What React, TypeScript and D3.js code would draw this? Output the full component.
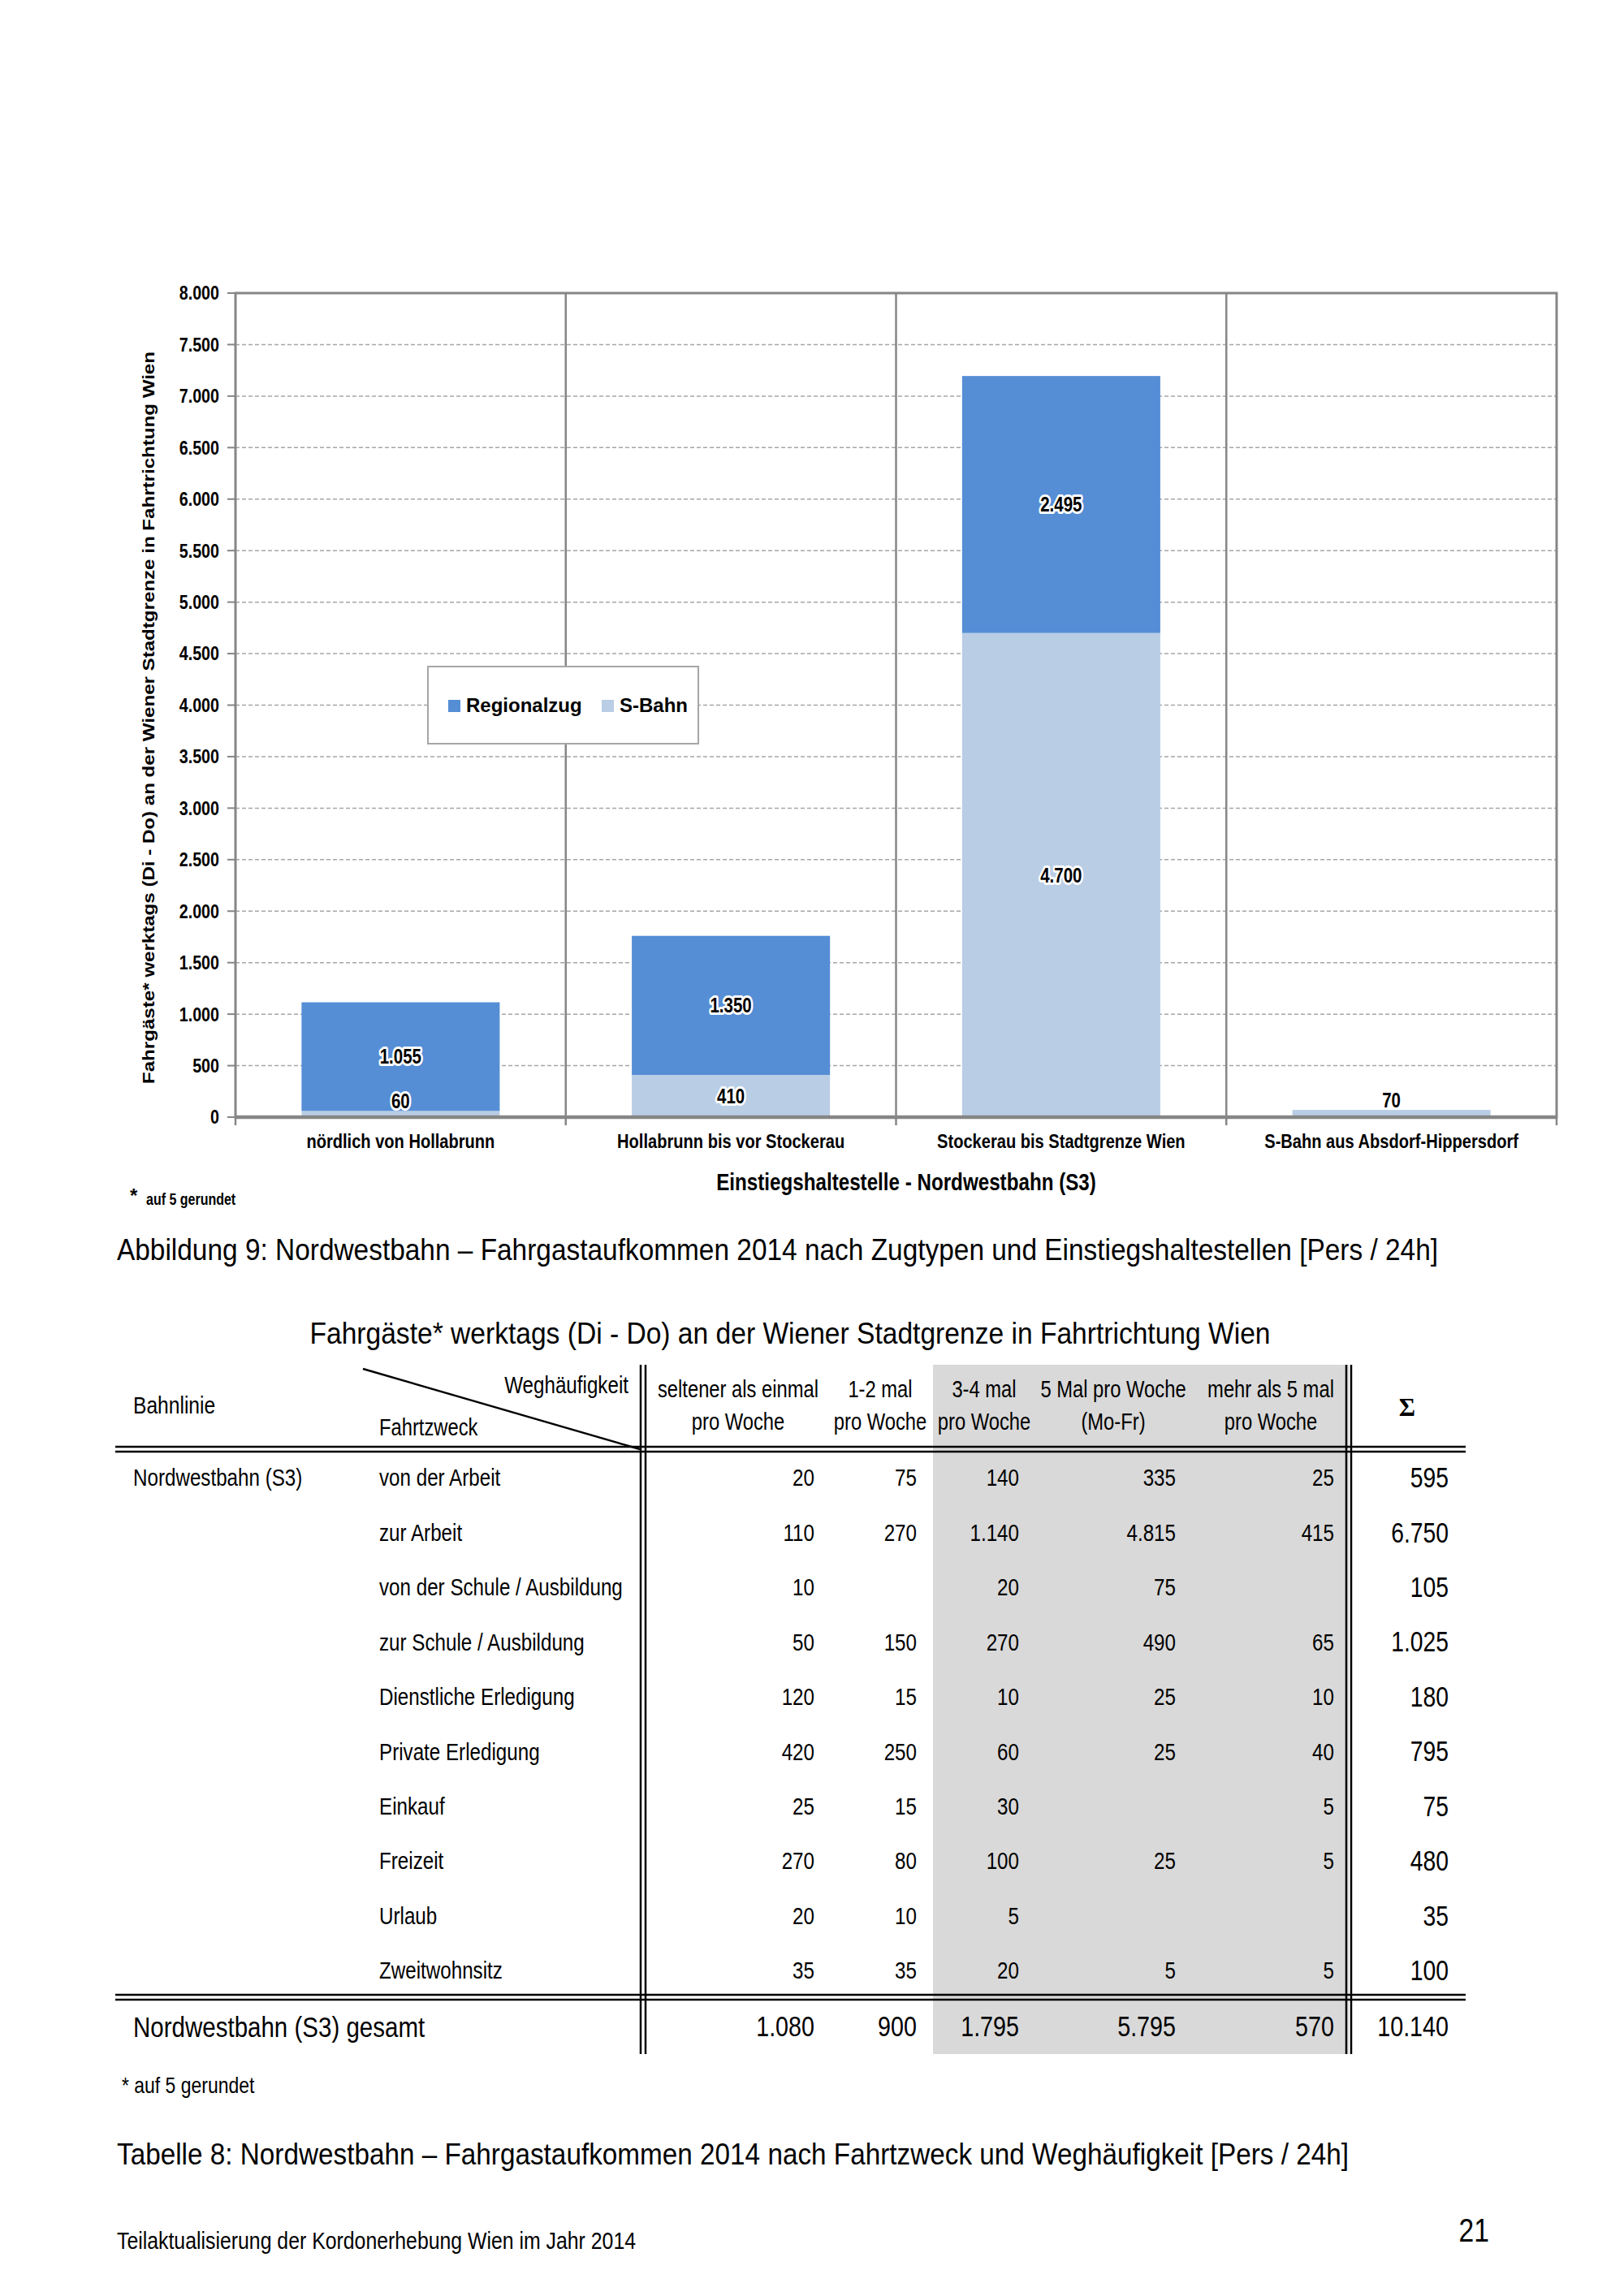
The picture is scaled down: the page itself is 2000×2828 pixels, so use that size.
import React from 'react';
import * as d3 from 'd3';

// Chart data (Abbildung 9)
const categories = [
  'nördlich von Hollabrunn',
  'Hollabrunn bis vor Stockerau',
  'Stockerau bis Stadtgrenze Wien',
  'S-Bahn aus Absdorf-Hippersdorf',
];
const sBahn = [60, 410, 4700, 70];
const regionalzug = [1055, 1350, 2495, 0];
const seriesKeys = ['sBahn', 'regionalzug'];
const seriesNames = ['Regionalzug', 'S-Bahn'];
const yTicks = d3.range(0, 8001, 500);

// Table data (Tabelle 8)
const purposes = [
  'von der Arbeit',
  'zur Arbeit',
  'von der Schule / Ausbildung',
  'zur Schule / Ausbildung',
  'Dienstliche Erledigung',
  'Private Erledigung',
  'Einkauf',
  'Freizeit',
  'Urlaub',
  'Zweitwohnsitz',
];
const freqHeaders = [
  ['seltener als einmal', 'pro Woche'],
  ['1-2 mal', 'pro Woche'],
  ['3-4 mal', 'pro Woche'],
  ['5 Mal pro Woche', '(Mo-Fr)'],
  ['mehr als 5 mal', 'pro Woche'],
];
const tableValues: (number | null)[][] = [
  [20, 75, 140, 335, 25],
  [110, 270, 1140, 4815, 415],
  [10, null, 20, 75, null],
  [50, 150, 270, 490, 65],
  [120, 15, 10, 25, 10],
  [420, 250, 60, 25, 40],
  [25, 15, 30, null, 5],
  [270, 80, 100, 25, 5],
  [20, 10, 5, null, null],
  [35, 35, 20, 5, 5],
];
const rowSums = [595, 6750, 105, 1025, 180, 795, 75, 480, 35, 100];
const colTotals = [1080, 900, 1795, 5795, 570];
const grandTotal = 10140;

const de = d3.formatLocale({ decimal: ',', thousands: '.', grouping: [3], currency: ['', '€'] });
const fmt = de.format(',d');

const SANS = "'Liberation Sans', Arial, sans-serif";
const BLUE = '#558ed5';
const LIGHT = '#b9cde5';
const AXIS = '#868686';

// narrow text: Liberation Sans squeezed horizontally (stand-in for Arial Narrow)
const NT: React.FC<{
  x: number; y: number; size: number; anchor?: 'start' | 'middle' | 'end';
  bold?: boolean; dy?: string; halo?: boolean; children: React.ReactNode;
}> = ({ x, y, size, anchor = 'start', bold = false, dy, halo = false, children }) => (
  <text transform={`translate(${x},${y}) scale(0.82,1)`} textAnchor={anchor} dy={dy}
    fontFamily={SANS} fontWeight={bold ? 'bold' : 'normal'} fontSize={size} fill="#000"
    stroke={halo ? '#fff' : undefined} strokeWidth={halo ? 6 : undefined} strokeLinejoin="round"
    style={halo ? { paintOrder: 'stroke' } : undefined}>
    {children}
  </text>
);

const App: React.FC = () => {
  // chart geometry
  const left = 290, right = 1917, top = 361, bottom = 1376;
  const x = d3.scaleBand<string>().domain(categories).range([left, right]).padding(0);
  const y = d3.scaleLinear().domain([0, 8000]).range([bottom, top]);
  const barW = x.bandwidth() * 0.6;

  const rows = categories.map((c, i) => ({ cat: c, sBahn: sBahn[i], regionalzug: regionalzug[i] }));
  const stacked = d3.stack<any>().keys(seriesKeys)(rows);
  const colors: Record<string, string> = { sBahn: LIGHT, regionalzug: BLUE };

  // table geometry
  const rowY = d3.scalePoint<string>().domain(purposes).range([1820, 2427]);
  const totalY = 2496;
  const colRight = [1003, 1129, 1255, 1448, 1643];
  const colCenter = [909, 1084, 1212, 1371, 1565];
  const sumRight = 1784;
  const tLeft = 142, tRight = 1805, tTop = 1681, tBottom = 2530;
  const vLine1 = 792, vLine2 = 1661, hLine1 = 1785, hLine2 = 2460;

  const dbl = (x1: number, y1: number, x2: number, y2: number, key: string) => {
    const horiz = y1 === y2;
    return (
      <g key={key}>
        <line x1={horiz ? x1 : x1 - 3} x2={horiz ? x2 : x2 - 3} y1={horiz ? y1 - 3 : y1} y2={horiz ? y2 - 3 : y2} stroke="#000" strokeWidth={2.5} />
        <line x1={horiz ? x1 : x1 + 3} x2={horiz ? x2 : x2 + 3} y1={horiz ? y1 + 3 : y1} y2={horiz ? y2 + 3 : y2} stroke="#000" strokeWidth={2.5} />
      </g>
    );
  };

  return (
    <svg width={2000} height={2828} style={{ position: 'absolute', left: 0, top: 0, background: '#fff' }}>
      <rect width={2000} height={2828} fill="#fff" />

      {/* gridlines */}
      {yTicks.filter(t => t > 0 && t < 8000).map(t => (
        <line key={'g' + t} x1={left} x2={right} y1={y(t)} y2={y(t)} stroke="#a6a6a6" strokeWidth={1.5} strokeDasharray="5,3" />
      ))}

      {/* category separators */}
      {categories.slice(1).map(c => (
        <line key={'s' + c} x1={x(c)!} x2={x(c)!} y1={top} y2={bottom + 10} stroke={AXIS} strokeWidth={2.5} />
      ))}

      {/* bars */}
      {stacked.map(s => (
        <g key={s.key} fill={colors[s.key]}>
          {s.map((d, i) => (
            d[1] - d[0] > 0 ? (
              <rect key={i} x={x(categories[i])! + (x.bandwidth() - barW) / 2} width={barW}
                y={y(d[1])} height={y(d[0]) - y(d[1])} />
            ) : null
          ))}
        </g>
      ))}

      {/* legend */}
      <rect x={527} y={821} width={333} height={95} fill="#fff" stroke="#a6a6a6" strokeWidth={2} />
      {seriesNames.map((n, i) => {
        const lx = i === 0 ? 552 : 741;
        return (
          <g key={n}>
            <rect x={lx} y={862} width={15} height={15} fill={i === 0 ? BLUE : LIGHT} />
            <text x={lx + 22} y={877} fontFamily={SANS} fontWeight="bold" fontSize={24}>{n}</text>
          </g>
        );
      })}

      {/* plot frame */}
      <rect x={left} y={top} width={right - left} height={bottom - top} fill="none" stroke={AXIS} strokeWidth={3} />
      <line x1={left} x2={right} y1={bottom} y2={bottom} stroke={AXIS} strokeWidth={4.5} />
      {[left, right].map(v => (
        <line key={'xt' + v} x1={v} x2={v} y1={bottom} y2={bottom + 10} stroke={AXIS} strokeWidth={2.5} />
      ))}

      {/* y axis */}
      {yTicks.map(t => (
        <g key={'y' + t}>
          <line x1={left - 10} x2={left} y1={y(t)} y2={y(t)} stroke={AXIS} strokeWidth={2} />
          <NT x={270} y={y(t)} dy="0.35em" anchor="end" bold size={24}>{fmt(t)}</NT>
        </g>
      ))}
      <text transform={`translate(190,884) rotate(-90)`} textAnchor="middle" fontFamily={SANS} fontWeight="bold" fontSize={21}
        textLength={902} lengthAdjust="spacingAndGlyphs">
        Fahrgäste* werktags (Di - Do) an der Wiener Stadtgrenze in Fahrtrichtung Wien
      </text>

      {/* data labels */}
      {stacked.map(s => s.map((d, i) => {
        const v = d[1] - d[0];
        if (v <= 0) return null;
        const h = y(d[0]) - y(d[1]);
        const ly = h < 30 ? y(d[1]) - 12 : (y(d[0]) + y(d[1])) / 2;
        const cx = x(categories[i])! + x.bandwidth() / 2;
        return (
          <NT key={s.key + i} x={cx} y={ly} dy="0.35em" anchor="middle" bold size={25} halo={h >= 5}>{fmt(v)}</NT>
        );
      }))}

      {/* x axis labels */}
      {categories.map(c => (
        <NT key={'xl' + c} x={x(c)! + x.bandwidth() / 2} y={1414} anchor="middle" bold size={24.5}>{c}</NT>
      ))}
      <NT x={1116} y={1466} anchor="middle" bold size={29.5}>Einstiegshaltestelle - Nordwestbahn (S3)</NT>
      <text x={160} y={1481} fontFamily={SANS} fontWeight="bold" fontSize={24}>*</text>
      <NT x={180} y={1484} bold size={19.5}>auf 5 gerundet</NT>

      {/* figure caption */}
      <text x={144} y={1552} fontFamily={SANS} fontSize={36} textLength={1627} lengthAdjust="spacingAndGlyphs">
        Abbildung 9: Nordwestbahn – Fahrgastaufkommen 2014 nach Zugtypen und Einstiegshaltestellen [Pers / 24h]
      </text>

      {/* ---------- table ---------- */}
      <text x={973} y={1655} textAnchor="middle" fontFamily={SANS} fontSize={36} textLength={1183} lengthAdjust="spacingAndGlyphs">
        Fahrgäste* werktags (Di - Do) an der Wiener Stadtgrenze in Fahrtrichtung Wien
      </text>
      <rect x={1149} y={tTop} width={vLine2 - 1149} height={tBottom - tTop} fill="#d9d9d9" />

      <line x1={447} y1={1686} x2={788} y2={1785} stroke="#000" strokeWidth={2.5} />
      <NT x={164} y={1741} size={30}>Bahnlinie</NT>
      <NT x={774} y={1716} anchor="end" size={29.5}>Weghäufigkeit</NT>
      <NT x={467} y={1768} size={29}>Fahrtzweck</NT>
      {freqHeaders.map((h, i) => (
        <g key={'fh' + i}>
          <NT x={colCenter[i]} y={1721} anchor="middle" size={29}>{h[0]}</NT>
          <NT x={colCenter[i]} y={1761} anchor="middle" size={29}>{h[1]}</NT>
        </g>
      ))}
      <text x={1733} y={1744} textAnchor="middle" fontFamily="'Liberation Serif', serif" fontWeight="bold" fontSize={31}>Σ</text>

      {dbl(tLeft, hLine1, tRight, hLine1, 'h1')}
      {dbl(tLeft, hLine2, tRight, hLine2, 'h2')}
      {dbl(vLine1, tTop, vLine1, tBottom, 'v1')}
      {dbl(vLine2, tTop, vLine2, tBottom, 'v2')}

      <NT x={164} y={1820} dy="0.35em" size={29.5}>Nordwestbahn (S3)</NT>
      {purposes.map((p, r) => (
        <g key={'r' + p}>
          <NT x={467} y={rowY(p)!} dy="0.35em" size={29.5}>{p}</NT>
          {tableValues[r].map((v, c) => v === null ? null : (
            <NT key={c} x={colRight[c]} y={rowY(p)!} dy="0.35em" anchor="end" size={29.5}>{fmt(v)}</NT>
          ))}
          <NT x={sumRight} y={rowY(p)!} dy="0.35em" anchor="end" size={34.5}>{fmt(rowSums[r])}</NT>
        </g>
      ))}

      <NT x={164} y={totalY} dy="0.35em" size={36}>Nordwestbahn (S3) gesamt</NT>
      {colTotals.map((v, c) => (
        <NT key={'ct' + c} x={colRight[c]} y={totalY} dy="0.35em" anchor="end" size={35}>{fmt(v)}</NT>
      ))}
      <NT x={sumRight} y={totalY} dy="0.35em" anchor="end" size={35}>{fmt(grandTotal)}</NT>

      <NT x={150} y={2578} size={28}>* auf 5 gerundet</NT>

      <text x={144} y={2666} fontFamily={SANS} fontSize={37} textLength={1517} lengthAdjust="spacingAndGlyphs">
        Tabelle 8: Nordwestbahn – Fahrgastaufkommen 2014 nach Fahrtzweck und Weghäufigkeit [Pers / 24h]
      </text>
      <text x={144} y={2770} fontFamily={SANS} fontSize={30} textLength={639} lengthAdjust="spacingAndGlyphs">
        Teilaktualisierung der Kordonerhebung Wien im Jahr 2014
      </text>
      <NT x={1834} y={2761} anchor="end" size={41}>21</NT>
    </svg>
  );
};

export default App;
